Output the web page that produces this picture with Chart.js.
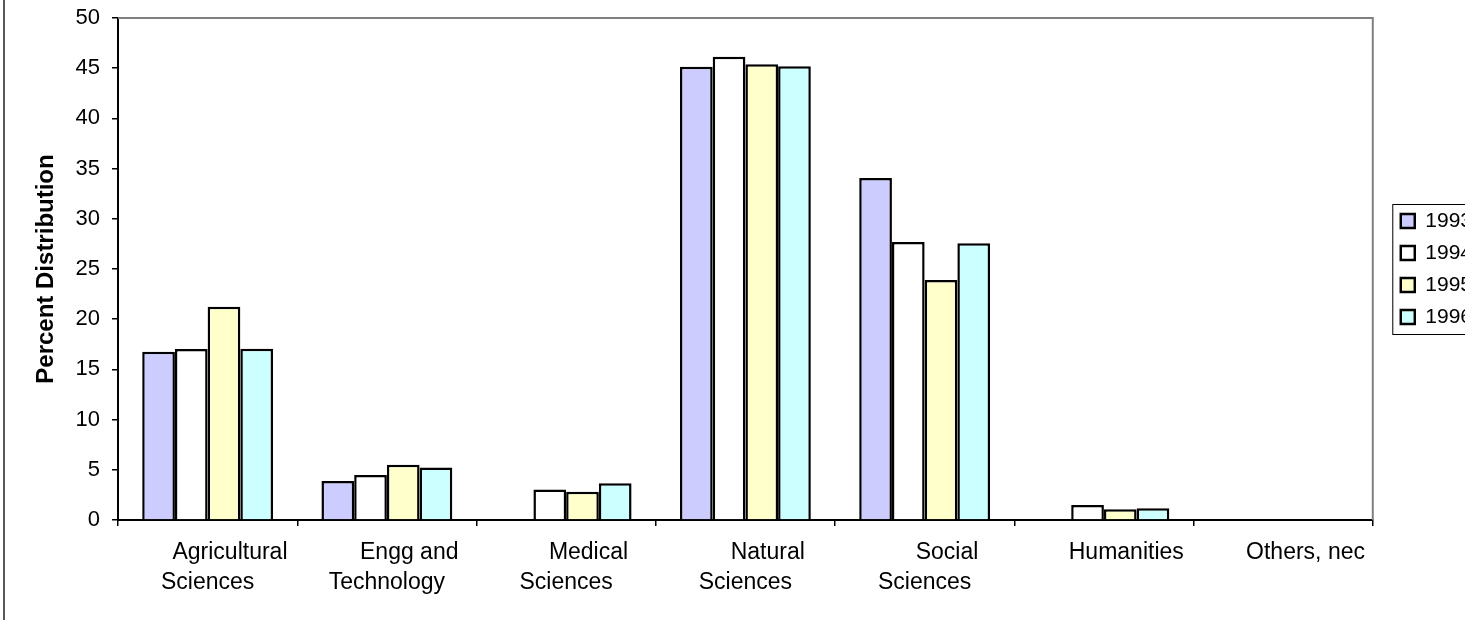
<!DOCTYPE html>
<html>
<head>
<meta charset="utf-8">
<title>Percent Distribution</title>
<script src="https://cdn.jsdelivr.net/npm/chart.js@4/dist/chart.umd.min.js"></script>
<style>
  html, body { margin: 0; padding: 0; background: #fff; overflow: hidden; }
  #wrap { position: relative; width: 1520px; height: 620px; }
</style>
</head>
<body>
<div id="wrap"><canvas id="distChart"></canvas></div>
<script>
// Chart data
const categories = [
    ['Agricultural', 'Sciences'],
    ['Engg and', 'Technology'],
    ['Medical', 'Sciences'],
    ['Natural', 'Sciences'],
    ['Social', 'Sciences'],
    ['Humanities'],
    ['Others, nec']
];
const years = ['1993', '1994', '1995', '1996'];
const values1993 = [16.76, 3.88, null, 45.15, 34.06, null, null];
const values1994 = [17.03, 4.48, 3.05, 46.15, 27.7, 1.5, null];
const values1995 = [21.25, 5.51, 2.82, 45.4, 23.9, 1.06, null];
const values1996 = [17.06, 5.24, 3.65, 45.2, 27.56, 1.16, null];
const yTicks = [0, 5, 10, 15, 20, 25, 30, 35, 40, 45, 50];

const seriesValues = [values1993, values1994, values1995, values1996];
const barColors = ['#CCCCFF', '#FFFFFF', '#FFFFCC', '#CCFFFF'];
const fontFamily = '"Liberation Sans", Arial, sans-serif';

// Excel style frames: plot area top/right, outer left edge, legend box
const framePlugin = {
    id: 'framePlugin',
    afterLayout(chart) {
        chart.legend.left += 17;
        chart.legend.right += 17;
    },
    afterDraw(chart) {
        const ctx = chart.ctx;
        const area = chart.chartArea;
        ctx.save();
        ctx.strokeStyle = '#808080';
        ctx.lineWidth = 2;
        ctx.beginPath();
        ctx.moveTo(area.left, area.top);
        ctx.lineTo(area.right, area.top);
        ctx.lineTo(area.right, area.bottom);
        ctx.stroke();

        ctx.strokeStyle = '#222';
        ctx.lineWidth = 1.5;
        ctx.beginPath();
        ctx.moveTo(4, 0);
        ctx.lineTo(4, chart.height);
        ctx.stroke();

        const lg = chart.legend;
        const pad = lg.options.labels.padding;
        const colH = lg.columnSizes[0].height;
        const top = (lg.top + pad + lg.bottom - colH) / 2;
        ctx.strokeStyle = '#000';
        ctx.lineWidth = 1;
        ctx.strokeRect(lg.left + pad - 8, top - 6, lg.width + 60, colH - pad + 13);
        ctx.restore();
    }
};

document.addEventListener('DOMContentLoaded', function() {
    const el = document.getElementById('distChart');
    new Chart(el, {
        type: 'bar',
        data: {
            labels: categories.map(c => c.join(' ')),
            datasets: years.map((y, i) => ({
                label: y,
                data: seriesValues[i],
                backgroundColor: barColors[i],
                borderColor: '#000',
                borderWidth: 2.5,
                categoryPercentage: 0.73,
                barPercentage: 1.0
            }))
        },
        options: {
            responsive: true,
            maintainAspectRatio: false,
            animation: false,
            layout: { padding: { top: 18, left: 0, right: 55, bottom: 0 } },
            plugins: {
                tooltip: { enabled: false },
                legend: {
                    position: 'right',
                    fullSize: false,
                    labels: {
                        color: '#000',
                        font: { family: fontFamily, size: 21 },
                        boxWidth: 14,
                        boxHeight: 14,
                        padding: 11
                    }
                }
            },
            scales: {
                x: {
                    afterFit: s => { s.height = 100; },
                    grid: { drawOnChartArea: false, drawTicks: true, tickLength: 6, color: '#000', lineWidth: 1.5 },
                    border: { display: true, color: '#000', width: 2 },
                    ticks: {
                        color: '#000',
                        font: { family: fontFamily, size: 23, lineHeight: 1.3 },
                        padding: 12,
                        autoSkip: false,
                        maxRotation: 0,
                        callback: function(v, i) {
                            const lines = categories[i].slice();
                            lines[0] = '       ' + lines[0];
                            return lines;
                        }
                    }
                },
                y: {
                    min: yTicks[0],
                    max: yTicks[yTicks.length - 1],
                    afterFit: s => {
                        s.width = 118;
                        s.paddingTop = 0;
                        s.paddingBottom = 0;
                    },
                    grid: { drawOnChartArea: false, drawTicks: true, tickLength: 6, color: '#000', lineWidth: 1.5 },
                    border: { display: true, color: '#000', width: 2 },
                    ticks: {
                        stepSize: yTicks[1] - yTicks[0],
                        color: '#000',
                        font: { family: fontFamily, size: 22 },
                        padding: 12
                    },
                    title: {
                        display: true,
                        text: 'Percent Distribution',
                        color: '#000',
                        font: { family: fontFamily, size: 24, weight: 'bold' },
                        padding: { top: 32, bottom: 0 }
                    }
                }
            }
        },
        plugins: [framePlugin]
    });
});
</script>
</body>
</html>
